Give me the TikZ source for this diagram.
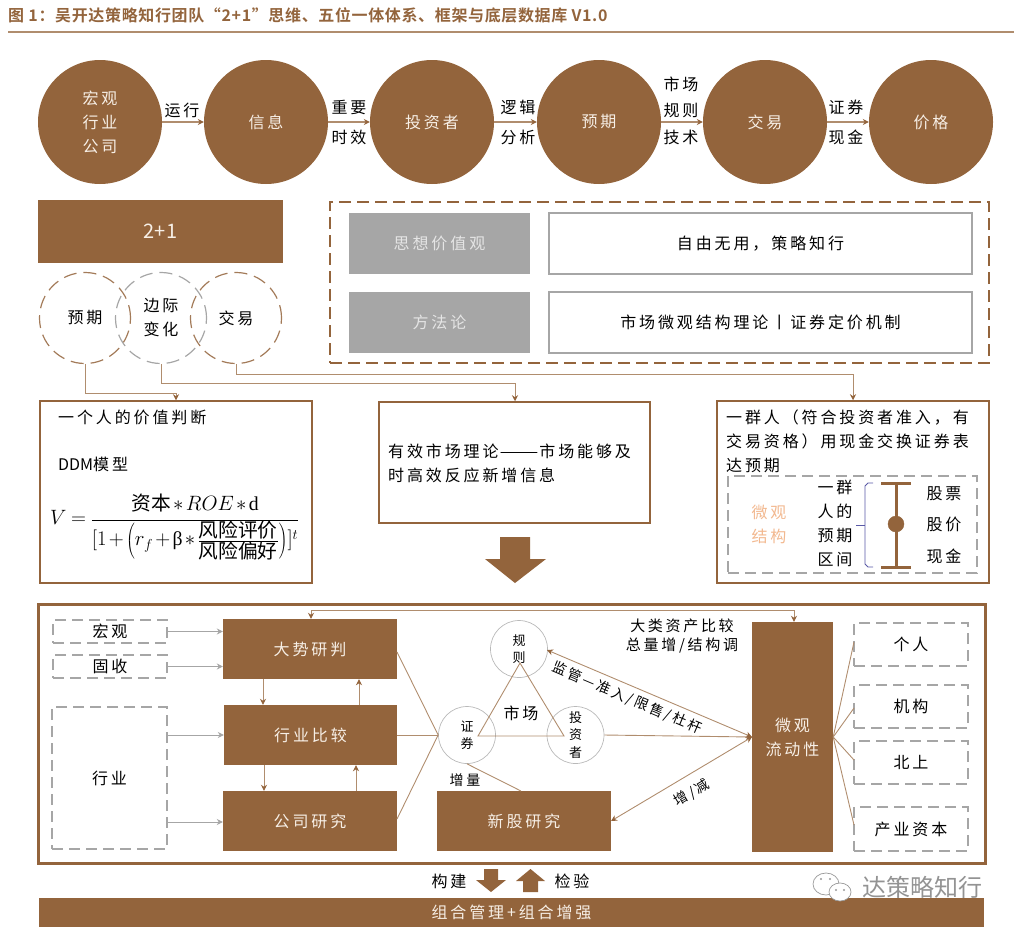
\documentclass[tikz,border=0pt]{standalone}
\usepackage{fontspec}
\setmainfont[LetterSpace=18]{Noto Sans CJK SC}
\newfontfamily\formulafont{Noto Sans CJK SC}
\newfontfamily\titlefont[LetterSpace=4]{Noto Sans CJK SC Bold}
\newfontfamily\greekfont{Liberation Serif}
\usetikzlibrary{arrows.meta}
\definecolor{brownfill}{HTML}{93643C}
\definecolor{brownline}{HTML}{B08D6E}
\definecolor{creamtext}{HTML}{F7EFE6}
\definecolor{graybox}{HTML}{A6A6A6}
\definecolor{peachtext}{HTML}{F2B88F}
\tikzset{
    base/.style={inner sep=0pt, align=center, font=\fontsize{16}{24}\selectfont},
    ballnode/.style={base, circle, fill=brownfill, text=creamtext, minimum size=124pt},
    brownbox/.style={base, rectangle, fill=brownfill, text=creamtext},
    graycell/.style={base, rectangle, fill=graybox, text=white!90!black, minimum width=181pt, minimum height=61pt},
    whitecell/.style={base, rectangle, draw=graybox, line width=1.1pt, minimum width=423pt, minimum height=61pt},
    dashcirc/.style={base, circle, dash pattern=on 13pt off 7pt, line width=1.2pt, minimum size=91pt},
    dashcell/.style={base, rectangle, draw=graybox, line width=1.1pt, dash pattern=on 11pt off 6pt},
    framebox/.style={rectangle, draw=brownfill, line width=1.5pt},
    smallcirc/.style={base, circle, draw=gray!55, line width=0.7pt, minimum size=57pt, font=\fontsize{13}{17.5}\selectfont},
    flow/.style={draw=brownline, line width=1.2pt, -{Stealth[length=6pt,width=6pt,color=brownfill]}},
    link/.style={draw=brownline, line width=0.9pt},
    feed/.style={draw=brownline, line width=0.9pt, -{Stealth[length=6pt,width=6pt,color=brownfill]}},
    twoway/.style={draw=brownline, line width=0.9pt, {Stealth[length=6pt,width=6pt,color=brownfill]}-{Stealth[length=6pt,width=6pt,color=brownfill]}},
    grayfeed/.style={draw=graybox, line width=0.9pt, -{Stealth[length=6pt,width=6pt,color=graybox]}},
    note/.style={base},
    leftnote/.style={base, anchor=west, align=left},
}
\begin{document}
\begin{tikzpicture}[x=1pt,y=-1pt]
        \useasboundingbox (0,0) rectangle (1016,932);

        % title
        \node[base, anchor=west, text=brownfill, font=\titlefont\fontsize{16}{18}\selectfont] (title) at (8,15) {图 1：吴开达策略知行团队“2+1”思维、五位一体体系、框架与底层数据库 V1.0};
        \coordinate (ruleL) at (8,32);
        \coordinate (ruleR) at (1014,32);
        \draw[brownline, line width=2pt] (ruleL) -- (ruleR);

        % top chain
        \node[ballnode] (macro) at (100,122) {宏观\\行业\\公司};
        \node[ballnode] (info) at (266,122) {信息};
        \node[ballnode] (investor) at (432,122) {投资者};
        \node[ballnode] (expect) at (599,122) {预期};
        \node[ballnode] (trade) at (765,122) {交易};
        \node[ballnode] (price) at (931,122) {价格};
        \draw[flow] (macro) -- (info);
        \draw[flow] (info) -- (investor);
        \draw[flow] (investor) -- (expect);
        \draw[flow] (expect) -- (trade);
        \draw[flow] (trade) -- (price);
        \node[note] (runL) at (182,110) {运行};
        \node[note] (keyL) at (349,107) {重要};
        \node[note] (timeL) at (349,137) {时效};
        \node[note] (logicL) at (518,107) {逻辑};
        \node[note] (parseL) at (518,137) {分析};
        \node[note] (marketL) at (681,84) {市场};
        \node[note] (ruleLb) at (681,110) {规则};
        \node[note] (techL) at (681,137) {技术};
        \node[note] (stockL) at (846,107) {证券};
        \node[note] (cashL) at (846,137) {现金};

        % 2+1
        \node[brownbox, minimum width=245pt, minimum height=63pt, font=\formulafont\fontsize{20}{24}\selectfont] (twoplus) at (160.5,231.5) {2+1};
        \node[dashcirc, draw=brownfill!85] (cExpect) at (85,318) {预期};
        \node[dashcirc, draw=brownfill!85] (cTrade) at (236,318) {交易};
        \node[dashcirc, draw=graybox] (cMargin) at (161,318) {边际\\变化};

        % values
        \node[framebox, dash pattern=on 12pt off 6pt, minimum width=659pt, minimum height=161pt] (valueframe) at (659.5,282.5) {};
        \node[graycell] (thought) at (439.5,243.5) {思想价值观};
        \node[whitecell] (thoughtT) at (760.5,243.5) {自由无用，策略知行};
        \node[graycell] (method) at (439.5,322.5) {方法论};
        \node[whitecell] (methodT) at (760.5,322.5) {市场微观结构理论丨证券定价机制};

        % three boxes
        \node[framebox, minimum width=272pt, minimum height=182pt] (person) at (176,492) {};
        \node[framebox, minimum width=271pt, minimum height=121pt] (theory) at (514.5,462.5) {};
        \node[framebox, minimum width=272pt, minimum height=182pt] (crowd) at (853,492) {};
        \coordinate (kneeA) at (176,393);
        \coordinate (kneeB) at (515,383);
        \coordinate (kneeC) at (853,374);
        \draw[feed] (cExpect.south) |- (kneeA) -- (kneeA |- person.north);
        \draw[feed] (cMargin.south) |- (kneeB) -- (kneeB |- theory.north);
        \draw[feed] (cTrade.south) |- (kneeC) -- (kneeC |- crowd.north);

        \node[leftnote] (personT) at (58,417) {一个人的价值判断};
        \node[leftnote] (ddm) at (58,464) {{\formulafont DDM}模型};
        \node[base, anchor=west, font=\fontsize{19.7}{24}\selectfont\formulafont] (formula) at (50,527) {\medmuskip=2mu \thickmuskip=4mu $\displaystyle V=\frac{\mbox{资本}\ast ROE\ast\mbox{\greekfont d}}{[1+\left(r_f+\mbox{\greekfont β}\ast\frac{\mbox{风险评价}}{\mbox{风险偏好}}\right)]^t}$};
        \node[leftnote] (theoryT) at (388,463) {有效市场理论\kern1pt\scalebox{1.45}[1]{——}\kern1pt 市场能够及\\时高效反应新增信息};
        \node[leftnote] (crowdT) at (726,441) {一群人（符合投资者准入，有\\交易资格）用现金交换证券表\\达预期};

        % micro structure
        \node[dashcell, minimum width=249pt, minimum height=97pt] (microframe) at (852.5,524.5) {};
        \node[base, text=peachtext] (microT) at (769,524.5) {微观\\结构};
        \node[base] (rangeT) at (835,523) {一群\\人的\\预期\\区间};
        \node[base] (stockT) at (944,494) {股票};
        \node[base] (stockP) at (944,524) {股价};
        \node[base] (stockC) at (944,556) {现金};
        \draw[draw=blue!30!gray, line width=0.8pt] (873,483) -- (868,483) -- (865,486) -- (865,564) -- (868,567) -- (873,567);
        \draw[draw=blue!30!gray, line width=0.8pt] (856,525) -- (865,525);
        \draw[brownfill, line width=3pt] (896,483) -- (896,567);
        \draw[brownfill, line width=3pt] (881,483) -- (911,483);
        \draw[brownfill, line width=3pt] (881,567) -- (911,567);
        \filldraw[brownfill] (896,524) circle (8);

        % down arrow
        \fill[brownfill] (500,537) -- (530,537) -- (530,559) -- (546,559) -- (515,583) -- (485,559) -- (500,559) -- cycle;

        % lower frame
        \node[framebox, line width=3pt, minimum width=947pt, minimum height=259pt] (lowerframe) at (511.5,733.5) {};
        \node[dashcell, minimum width=114pt, minimum height=23pt] (dMacro) at (110,631.5) {宏观};
        \node[dashcell, minimum width=114pt, minimum height=23pt] (dBond) at (110,666.5) {固收};
        \node[dashcell, minimum width=115pt, minimum height=142pt] (dIndustry) at (109.5,778) {行业};

        \node[brownbox, minimum width=174pt, minimum height=60pt] (trend) at (310,649) {大势研判};
        \node[brownbox, minimum width=173pt, minimum height=60pt] (sector) at (310.5,735) {行业比较};
        \node[brownbox, minimum width=174pt, minimum height=60pt] (company) at (310,821) {公司研究};

        \coordinate (gA) at (167,735);
        \coordinate (gB) at (167,822);
        \draw[grayfeed] (dMacro.east) -- (dMacro.east -| trend.west);
        \draw[grayfeed] (dBond.east) -- (dBond.east -| trend.west);
        \draw[grayfeed] (gA) -- (gA -| sector.west);
        \draw[grayfeed] (gB) -- (gB -| company.west);

        \coordinate (v1) at (263,700);
        \coordinate (v2) at (359,700);
        \coordinate (v3) at (264,780);
        \coordinate (v4) at (356,780);
        \draw[feed] (v1 |- trend.south) -- (v1 |- sector.north);
        \draw[feed] (v2 |- sector.north) -- (v2 |- trend.south);
        \draw[feed] (v3 |- sector.south) -- (v3 |- company.north);
        \draw[feed] (v4 |- company.north) -- (v4 |- sector.south);

        % market triangle
        \node[smallcirc] (cSecurity) at (467,735) {证\\券};
        \node[smallcirc] (cRule) at (519,649) {规\\则};
        \node[smallcirc] (cInvestor) at (575.5,735) {投\\资\\者};
        \coordinate (triTop) at (520,663);
        \coordinate (triL) at (478,736);
        \coordinate (triR) at (564,736);
        \draw[link] (triTop) -- (triL) -- (triR) -- cycle;
        \node[base] (marketT) at (521,713) {市场};
        \node[base, font=\fontsize{14}{18}\selectfont] (addT) at (465,780) {增量};

        \coordinate (trendR) at (397,652);
        \coordinate (companyR) at (397,819);
        \draw[link] (trendR) -- (cSecurity.west);
        \draw[link] (sector.east) -- (cSecurity.west);
        \draw[link] (companyR) -- (cSecurity.west);

        \node[brownbox, minimum width=174pt, minimum height=60pt] (ipo) at (524,821) {新股研究};
        \node[brownbox, minimum width=81pt, minimum height=230pt] (micro) at (792.5,737) {微观\\流动性};
        \coordinate (ipoTop) at (521,791);
        \draw[link] (cSecurity.south) -- (ipoTop);
        \coordinate (microIn) at (752,737);
        \coordinate (ipoR) at (611,821);
        \coordinate (ruleR2) at (547,650);
        \draw[feed] (cInvestor.east) -- (microIn);
        \draw[twoway] (ruleR2) -- (microIn);
        \draw[twoway] (ipoR) -- (microIn);
        \coordinate (upA) at (311,610);
        \coordinate (upB) at (794,610);
        \draw[twoway] (upA |- trend.north) -- (upA) -- (upB) -- (upB |- micro.north);

        \node[base, font=\fontsize{15}{19}\selectfont] (assetT) at (682,636) {大类资产比较\\总量增/结构调};
        \node[base, rotate=-23, font=\fontsize{14}{18}\selectfont] (ruleT) at (627,698) {监管—准入/限售/杜杆};
        \node[base, rotate=31, font=\fontsize{14}{18}\selectfont] (changeT) at (692,793) {增/减};

        % investors
        \node[dashcell, minimum width=114pt, minimum height=43pt] (dPerson) at (911,644.5) {个人};
        \node[dashcell, minimum width=114pt, minimum height=43pt] (dInst) at (911,706.5) {机构};
        \node[dashcell, minimum width=114pt, minimum height=43pt] (dNorth) at (911,762.5) {北上};
        \node[dashcell, minimum width=114pt, minimum height=44pt] (dCapital) at (911,829) {产业资本};
        \coordinate (fanA) at (854,642);
        \coordinate (fanB) at (854,708);
        \coordinate (fanC) at (854,760);
        \coordinate (fanD) at (854,825);
        \draw[link] (micro.east) -- (fanA);
        \draw[link] (micro.east) -- (fanB);
        \draw[link] (micro.east) -- (fanC);
        \draw[link] (micro.east) -- (fanD);

        % bottom
        \node[base] (buildT) at (449,881) {构建};
        \fill[brownfill] (484,869) -- (498,869) -- (498,880) -- (506,880) -- (491,892) -- (476,880) -- (484,880) -- cycle;
        \fill[brownfill] (523,892) -- (538,892) -- (538,881) -- (545,881) -- (530.5,869) -- (516,881) -- (523,881) -- cycle;
        \node[base] (testT) at (572,881) {检验};
        \node[brownbox, minimum width=945pt, minimum height=29pt] (bottombar) at (511.5,912.5) {组合管理+组合增强};

        % watermark
        \filldraw[draw=gray!80, fill=white, line width=0.7pt] (826,884) ellipse (13 and 11);
        \filldraw[draw=gray!80, fill=white, line width=0.7pt] (840,892) ellipse (11 and 9);
        \fill[gray!80] (821,879) circle (1.2) (830,879) circle (1.2) (836,890) circle (1.1) (844,890) circle (1.1);
        \node[base, text=gray!85, font=\formulafont\fontsize{24}{28}\selectfont] (mark) at (922,887) {达策略知行};

        \end{tikzpicture}
\end{document}
